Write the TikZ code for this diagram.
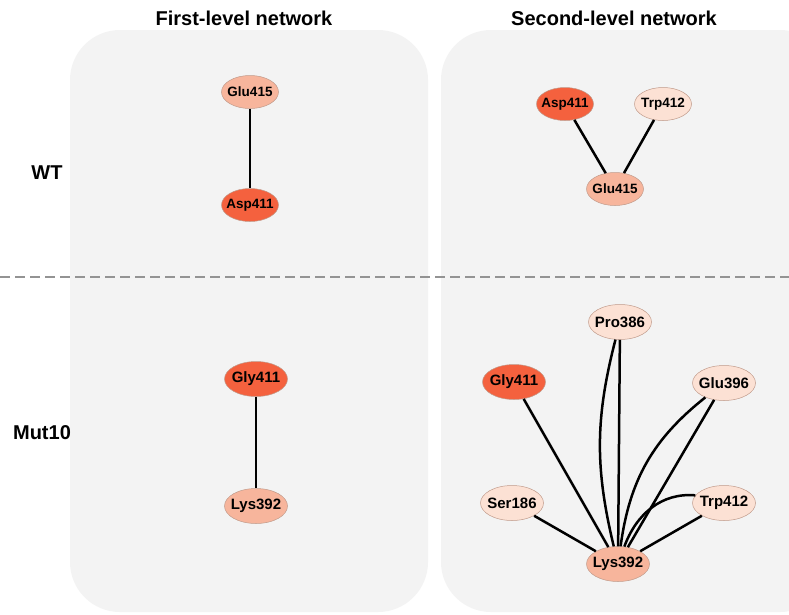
\documentclass[tikz,border=0pt]{standalone}
\usepackage{fontspec}
\setmainfont{Liberation Sans}
\usetikzlibrary{shapes.geometric}

\definecolor{panelgray}{HTML}{F3F3F3}
\definecolor{hotres}{HTML}{F4613E}
\definecolor{warmres}{HTML}{F7B59C}
\definecolor{paleres}{HTML}{FCE1D4}
\definecolor{resline}{HTML}{C09A8A}

\tikzset{
  res/.style={ellipse, draw=resline, line width=.5pt, minimum width=57pt, minimum height=33pt, inner xsep=-12pt, inner ysep=0pt, font=\bfseries\fontsize{13.5}{13.5}\selectfont},
  big/.style={minimum width=63pt, minimum height=35pt, font=\bfseries\fontsize{15}{15}\selectfont},
  hot/.style={res, fill=hotres},
  warm/.style={res, fill=warmres},
  pale/.style={res, fill=paleres},
  link/.style={line width=2.5pt, black},
  panel/.style={fill=panelgray, draw=none, rounded corners=50pt},
  heading/.style={font=\bfseries\fontsize{20}{20}\selectfont}
}

\begin{document}
\begin{tikzpicture}[x=1pt, y=-1pt]
\useasboundingbox (0,0) rectangle (789,614);
\clip (0,0) rectangle (789,614);
\fill[white] (0,0) rectangle (789,614);

% panels
\fill[panel] (70,30) rectangle (428,612);
\fill[panel] (441,30) rectangle (830,612);
\draw[gray!85, line width=1.6pt, dash pattern=on 10pt off 5pt] (0,277) -- (789,277);

% headings
\node[heading] (h1) at (244,18) {First-level network};
\node[heading] (h2) at (614,18) {Second-level network};
\node[heading] (wt) at (47,173) {WT};
\node[heading] (mut) at (42,433) {Mut10};

% WT, first level
\node[warm] (aglu) at (250,92) {Glu415};
\node[hot] (aasp) at (250,205) {Asp411};
\draw[link] (aglu) -- (aasp);

% WT, second level
\node[hot] (basp) at (565,104) {Asp411};
\node[pale] (btrp) at (663,104) {Trp412};
\node[warm] (bglu) at (615,189) {Glu415};
\draw[link] (basp) -- (bglu);
\draw[link] (btrp) -- (bglu);

% Mut10, first level
\node[hot, big] (cgly) at (256,379) {Gly411};
\node[warm, big] (clys) at (256,506) {Lys392};
\draw[link] (cgly) -- (clys);

% Mut10, second level
\node[pale, big] (dpro) at (620,322) {Pro386};
\node[hot, big] (dgly) at (514,382) {Gly411};
\node[pale, big] (dglu) at (724,383) {Glu396};
\node[pale, big] (dser) at (512,503) {Ser186};
\node[pale, big] (dtrp) at (724,503) {Trp412};
\node[warm, big] (dlys) at (618,564) {Lys392};
\draw[link] (dgly) -- (dlys);
\draw[link] (dser) -- (dlys);
\draw[link] (dpro) -- (dlys);
\draw[link] (dpro) to[bend right=14] (dlys);
\draw[link] (dglu) -- (dlys);
\draw[link] (dglu) to[bend right=22] (dlys);
\draw[link] (dtrp) -- (dlys);
\draw[link] (dtrp.165) to[out=175, in=70] (dlys);
\end{tikzpicture}
\end{document}
